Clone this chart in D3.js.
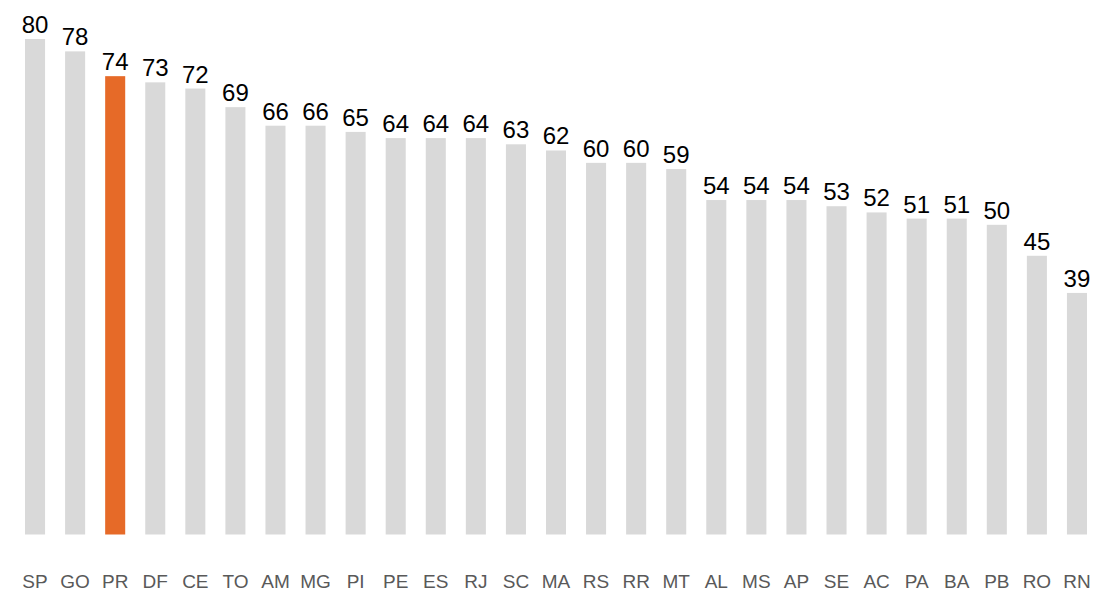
<!DOCTYPE html>
<html>
<head>
<meta charset="utf-8">
<script src="https://cdn.jsdelivr.net/npm/d3@7.9.0/dist/d3.min.js"></script>
<style>
  body { margin: 0; background: #fff; }
  svg { display: block; font-family: "Liberation Sans", Arial, sans-serif; }
</style>
</head>
<body>
<div id="chart"></div>
<script>
const states = ['SP','GO','PR','DF','CE','TO','AM','MG','PI','PE','ES','RJ','SC','MA','RS','RR','MT','AL','MS','AP','SE','AC','PA','BA','PB','RO','RN'];
const values = [80,78,74,73,72,69,66,66,65,64,64,64,63,62,60,60,59,54,54,54,53,52,51,51,50,45,39];
const highlight = 'PR';

const width = 1094;
const height = 591;

const svg = d3.select('#chart')
  .append('svg')
  .attr('width', width)
  .attr('height', height);

const x = d3.scaleBand()
  .domain(states)
  .range([15, 1097])
  .paddingInner(0.5)
  .paddingOuter(0.25);

const y = d3.scaleLinear()
  .domain([0, 80])
  .range([534.5, 39]);

const data = states.map((s, i) => ({ state: s, value: values[i] }));

svg.append('g')
  .selectAll('rect')
  .data(data)
  .join('rect')
  .attr('x', d => x(d.state))
  .attr('y', d => y(d.value))
  .attr('width', x.bandwidth())
  .attr('height', d => y(0) - y(d.value))
  .attr('fill', d => d.state === highlight ? '#e66a28' : '#d9d9d9');

// value labels
svg.append('g')
  .selectAll('text')
  .data(data)
  .join('text')
  .attr('x', d => x(d.state) + x.bandwidth() / 2)
  .attr('y', d => y(d.value) - 6)
  .attr('text-anchor', 'middle')
  .attr('font-size', 24)
  .attr('fill', '#000')
  .text(d => d.value);

// category axis
const xAxis = svg.append('g')
  .attr('transform', `translate(0, ${y(0)})`)
  .call(d3.axisBottom(x).tickSize(0).tickPadding(0));
xAxis.select('.domain').remove();
xAxis.selectAll('text')
  .attr('y', 53)
  .attr('dy', 0)
  .attr('font-size', 19)
  .attr('font-family', '"Liberation Sans", Arial, sans-serif')
  .attr('fill', '#595959');
</script>
</body>
</html>
